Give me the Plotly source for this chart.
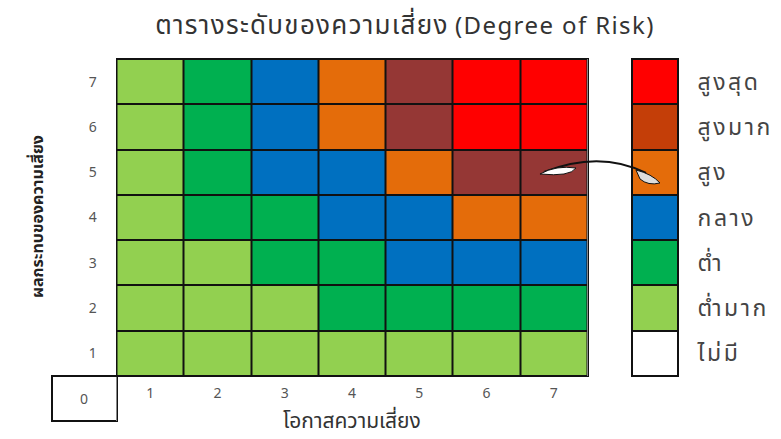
import plotly.graph_objects as go

# ---------------- data ----------------
likelihood = [1, 2, 3, 4, 5, 6, 7]          # x axis (โอกาสความเสี่ยง)
impact = [1, 2, 3, 4, 5, 6, 7]              # y axis (ผลกระทบของความเสี่ยง)

# risk level per cell, rows = impact 1..7, cols = likelihood 1..7
# 0 none, 1 very low, 2 low, 3 medium, 4 high, 5 very high, 6 highest
risk_row_1 = [1, 1, 1, 1, 1, 1, 1]
risk_row_2 = [1, 1, 1, 2, 2, 2, 2]
risk_row_3 = [1, 1, 2, 2, 3, 3, 3]
risk_row_4 = [1, 2, 2, 3, 3, 4, 4]
risk_row_5 = [1, 2, 3, 3, 4, 5, 5]
risk_row_6 = [1, 2, 3, 4, 5, 6, 6]
risk_row_7 = [1, 2, 3, 4, 5, 6, 6]
risk_grid = [risk_row_1, risk_row_2, risk_row_3, risk_row_4,
             risk_row_5, risk_row_6, risk_row_7]

legend_levels = [0, 1, 2, 3, 4, 5, 6]       # bottom to top
legend_labels = ["ไม่มี", "ต่ำมาก", "ต่ำ", "กลาง", "สูง", "สูงมาก", "สูงสุด"]

origin_value = [[0]]

title_thai = "ตารางระดับของความเสี่ยง"
title_latin = "(Degree of Risk)"
x_title = "โอกาสความเสี่ยง"
y_title = "ผลกระทบของความเสี่ยง"

# ---------------- styles ----------------
grid_colors = ["#FFFFFF", "#92D050", "#00B050", "#0070C0", "#E46C0A", "#953735", "#FF0000"]
legend_colors = ["#FFFFFF", "#92D050", "#00B050", "#0070C0", "#E46C0A", "#C43E08", "#FF0000"]

W, H = 781, 439


def stepped(colors):
    n = len(colors)
    cs = []
    for i, c in enumerate(colors):
        cs.append([i / n, c])
        cs.append([(i + 1) / n, c])
    return cs


def px(x):
    return x / W


def py(y):
    return 1 - y / H


FONT = "Tahoma, 'Noto Sans Thai', 'Noto Sans', 'DejaVu Sans', sans-serif"

fig = go.Figure()

fig.add_trace(go.Heatmap(
    x=likelihood, y=impact, z=risk_grid,
    colorscale=stepped(grid_colors), zmin=-0.5, zmax=6.5,
    showscale=False, xgap=2, ygap=2, hoverinfo="skip",
    xaxis="x", yaxis="y",
))

fig.add_trace(go.Heatmap(
    x=[0], y=legend_levels, z=[[v] for v in legend_levels],
    colorscale=stepped(legend_colors), zmin=-0.5, zmax=6.5,
    showscale=False, xgap=2, ygap=2, hoverinfo="skip",
    xaxis="x3", yaxis="y3",
))

fig.add_trace(go.Heatmap(
    x=[0], y=[0], z=origin_value,
    colorscale=[[0, "#FFFFFF"], [1, "#FFFFFF"]],
    showscale=False, xgap=2, ygap=2, hoverinfo="skip",
    texttemplate="%{z}", textfont=dict(size=14, color="#555555", family=FONT),
    xaxis="x2", yaxis="y2",
))

grid_x = [px(116.5), px(587.5)]
grid_y = [py(376), py(59)]

axis_common = dict(showgrid=False, zeroline=False, showline=True, mirror=True,
                   linecolor="#111111", linewidth=1, ticks="")

title_html = ('<span style="font-size:26px;letter-spacing:1.3px">' + title_thai +
              '</span> <span style="letter-spacing:1.4px">' + title_latin + '</span>')

fig.update_layout(
    width=W, height=H,
    margin=dict(l=0, r=0, t=0, b=0),
    paper_bgcolor="white", plot_bgcolor="#111111",
    font=dict(family=FONT),
    title=dict(text=title_html, x=px(405), y=py(26), xanchor="center", yanchor="middle",
               font=dict(size=24, color="#333333", family=FONT)),
    xaxis=dict(domain=grid_x, range=[0.5, 7.5], tickvals=likelihood,
               ticktext=[str(v) for v in likelihood], ticklabelstandoff=4,
               tickfont=dict(size=14, color="#555555"), anchor="y", **axis_common),
    yaxis=dict(domain=grid_y, range=[0.5, 7.5], tickvals=impact,
               ticktext=[str(v) for v in impact], ticklabelstandoff=16,
               tickfont=dict(size=14, color="#555555"), anchor="x", **axis_common),
    xaxis2=dict(domain=[px(52), px(116.5)], range=[-0.5, 0.5], showticklabels=False,
                anchor="y2", **axis_common),
    yaxis2=dict(domain=[py(421), py(376)], range=[-0.5, 0.5], showticklabels=False,
                anchor="x2", **axis_common),
    xaxis3=dict(domain=[px(632), px(678)], range=[-0.5, 0.5], showticklabels=False,
                anchor="y3", **axis_common),
    yaxis3=dict(domain=grid_y, range=[-0.5, 6.5], side="right", tickvals=legend_levels,
                ticktext=legend_labels, ticklabelstandoff=14,
                tickfont=dict(size=23, color="#444444"), anchor="x3", **axis_common),
)

fig.add_annotation(text=x_title, xref="paper", yref="paper", x=px(352), y=py(421),
                   xanchor="center", yanchor="middle", showarrow=False,
                   font=dict(size=21, color="#333333", family=FONT))
fig.add_annotation(text="<b>" + y_title + "</b>", xref="paper", yref="paper",
                   x=px(38), y=py(217),
                   xanchor="center", yanchor="middle", showarrow=False, textangle=-90,
                   font=dict(size=16, color="#222222", family=FONT))


def path(points_cmd):
    out = []
    for tok in points_cmd:
        if isinstance(tok, str):
            out.append(tok)
        else:
            out.append(f"{px(tok[0]):.5f},{py(tok[1]):.5f}")
    return " ".join(out)


# curved pointer from legend "สูง" to the grid
fig.add_shape(type="path", xref="paper", yref="paper",
              path=path(["M", (544, 172), "Q", (600, 150), (646, 173)]),
              line=dict(color="#111111", width=2), fillcolor="rgba(0,0,0,0)")
fig.add_shape(type="path", xref="paper", yref="paper",
              path=path(["M", (540, 174), "Q", (556, 165), (576, 168),
                         "Q", (570, 177), (540, 174), "Z"]),
              line=dict(color="#111111", width=1), fillcolor="#FFFFFF")
fig.add_shape(type="path", xref="paper", yref="paper",
              path=path(["M", (636, 170), "Q", (652, 174), (660, 183),
                         "Q", (648, 186), (640, 179), "Z"]),
              line=dict(color="#111111", width=1), fillcolor="#DDDDDD")

post = """
document.body.style.margin='0';
document.body.style.overflow='hidden';
document.querySelectorAll('.y3tick text').forEach(function(e){e.style.letterSpacing='2.5px';});
"""

fig.write_html("out.html", post_script=post, config={"displayModeBar": False})
